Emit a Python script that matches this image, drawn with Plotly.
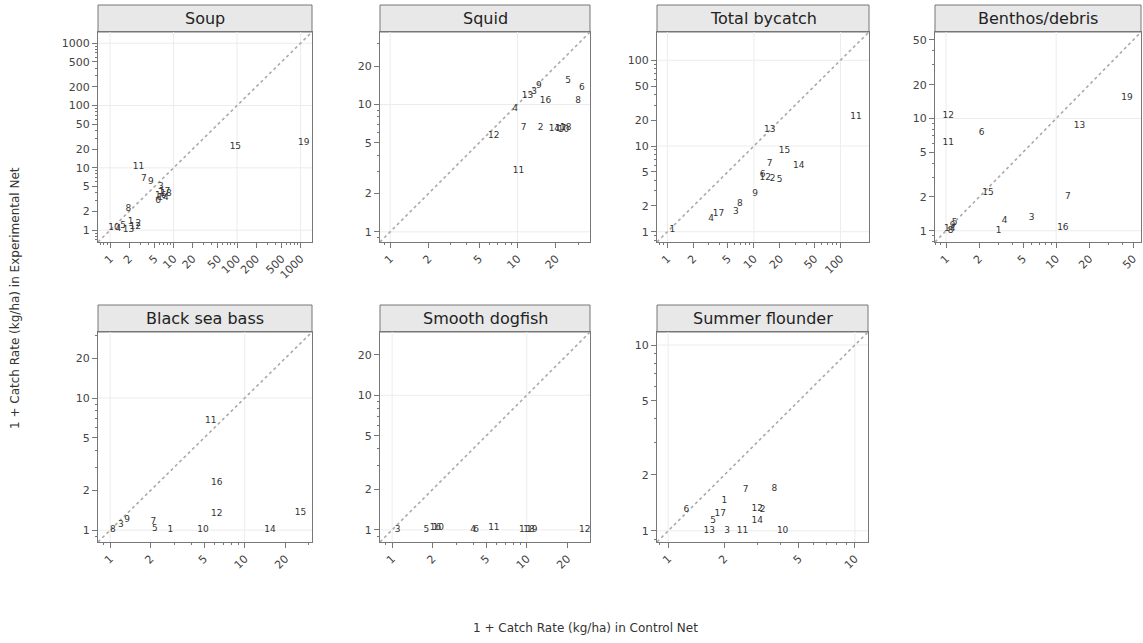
import plotly.graph_objects as go

W, H = 1143, 643

# ---------------- data (1 + catch rate, kg/ha) ----------------
panel_names = ["Soup", "Squid", "Total bycatch", "Benthos/debris",
               "Black sea bass", "Smooth dogfish", "Summer flounder"]

soup_labels = ["1", "2", "3", "4", "5", "6", "7", "8", "9", "10", "11", "12", "13", "14", "15", "16", "17", "18", "19"]
soup_control = [2.1, 2.8, 6.3, 1.35, 1.6, 5.7, 3.4, 1.95, 4.4, 1.15, 2.8, 2.5, 1.95, 6.8, 94, 6.3, 7.2, 7.6, 1120]
soup_exper = [1.34, 1.25, 4.9, 1.04, 1.16, 3.0, 6.8, 2.2, 5.9, 1.08, 10.6, 1.12, 1.03, 3.3, 21.5, 3.6, 4.1, 3.9, 25]

squid_labels = ["2", "3", "4", "5", "6", "7", "8", "9", "10", "11", "12", "13", "14", "16", "17", "18"]
squid_control = [15.2, 13.5, 9.6, 25, 32, 11.2, 30, 14.7, 23, 10.2, 6.5, 12, 19.5, 16.6, 21.8, 24]
squid_exper = [6.6, 12.5, 9.3, 15.5, 13.6, 6.6, 10.7, 14.1, 6.3, 3.0, 5.7, 11.8, 6.4, 10.7, 6.5, 6.6]

total_labels = ["1", "2", "3", "4", "5", "6", "7", "8", "9", "11", "12", "13", "14", "15", "17"]
total_control = [1.14, 16.4, 6.2, 3.2, 19.8, 12.6, 15.2, 6.9, 10.3, 151, 13.5, 15.2, 33, 22.5, 3.9]
total_exper = [1.05, 4.2, 1.7, 1.4, 4.0, 4.6, 6.2, 2.1, 2.8, 22, 4.3, 15.6, 5.9, 8.8, 1.6]

benthos_labels = ["1", "3", "4", "5", "6", "7", "8", "9", "11", "12", "13", "14", "15", "16", "19"]
benthos_control = [3.0, 6.0, 3.4, 1.2, 2.1, 12.8, 1.1, 1.15, 1.05, 1.05, 16.3, 1.08, 2.4, 11.5, 44]
benthos_exper = [1.0, 1.3, 1.23, 1.18, 7.4, 2.0, 1.0, 1.1, 6.1, 10.6, 8.6, 1.05, 2.2, 1.06, 15.4]

bsb_labels = ["1", "3", "5", "7", "8", "9", "10", "11", "12", "14", "15", "16"]
bsb_control = [2.8, 1.2, 2.15, 2.1, 1.05, 1.34, 4.9, 5.6, 6.2, 15.4, 26, 6.2]
bsb_exper = [1.0, 1.1, 1.02, 1.15, 1.0, 1.19, 1.0, 6.7, 1.34, 1.0, 1.36, 2.3]

dog_labels = ["1", "3", "4", "5", "6", "10", "11", "12", "16", "18", "19"]
dog_control = [9.2, 1.1, 4.0, 1.8, 4.2, 2.2, 5.7, 27, 2.1, 10.4, 10.9]
dog_exper = [1.0, 1.0, 1.0, 1.0, 1.0, 1.03, 1.03, 1.0, 1.03, 1.0, 1.0]

fl_labels = ["1", "2", "3", "5", "6", "7", "8", "10", "11", "12", "13", "14", "17"]
fl_control = [2.0, 3.2, 2.07, 1.74, 1.25, 2.6, 3.7, 4.1, 2.5, 3.0, 1.66, 3.0, 1.9]
fl_exper = [1.45, 1.30, 1.0, 1.13, 1.30, 1.66, 1.68, 1.0, 1.0, 1.31, 1.0, 1.13, 1.23]

ticks_soup = [1, 2, 5, 10, 20, 50, 100, 200, 500, 1000]
ticks_squid = [1, 2, 5, 10, 20]
ticks_total = [1, 2, 5, 10, 20, 50, 100]
ticks_benthos = [1, 2, 5, 10, 20, 50]
ticks_bsb = [1, 2, 5, 10, 20]
ticks_dog = [1, 2, 5, 10, 20]
ticks_fl = [1, 2, 5, 10]

series = [
    (soup_labels, soup_control, soup_exper, ticks_soup),
    (squid_labels, squid_control, squid_exper, ticks_squid),
    (total_labels, total_control, total_exper, ticks_total),
    (benthos_labels, benthos_control, benthos_exper, ticks_benthos),
    (bsb_labels, bsb_control, bsb_exper, ticks_bsb),
    (dog_labels, dog_control, dog_exper, ticks_dog),
    (fl_labels, fl_control, fl_exper, ticks_fl),
]

# ---------------- layout geometry (pixels) ----------------
boxes = [  # x0, x1, ytop, ybottom of plotting region
    (98, 312, 32, 242),
    (380, 590, 32, 242),
    (657, 869, 32, 242),
    (935, 1141, 32, 242),
    (98, 312, 332, 542),
    (380, 590, 332, 542),
    (657, 868, 332, 542),
]
log_ranges = [
    (-0.19, 3.18),
    (-0.08, 1.57),
    (-0.12, 2.33),
    (-0.10, 1.77),
    (-0.09, 1.50),
    (-0.09, 1.47),
    (-0.06, 1.07),
]
STRIP_H = 27

FONT = "DejaVu Sans, Verdana, sans-serif"
AX_COL = "#777777"
TXT_COL = "#333333"


def minor_vals(lo, hi):
    out = []
    for d in range(-1, 5):
        for m in (3, 4, 6, 7, 8, 9):
            v = m * 10 ** d
            if 10 ** lo <= v <= 10 ** hi:
                out.append(v)
    return out


fig = go.Figure()
shapes = []
annotations = []
layout = {}

for i, ((labs, xc, ye, tv), (x0, x1, yt, yb), (lo, hi), name) in enumerate(
        zip(series, boxes, log_ranges, panel_names)):
    k = i + 1
    xa = "x" if k == 1 else f"x{k}"
    ya = "y" if k == 1 else f"y{k}"

    # light grid lines at decades
    decades = [10 ** d for d in range(0, 4) if lo <= d <= hi]
    for d in decades:
        fig.add_trace(go.Scatter(x=[d, d], y=[10 ** lo, 10 ** hi], mode="lines",
                                 line=dict(color="#ececec", width=1),
                                 xaxis=xa, yaxis=ya, hoverinfo="skip", showlegend=False))
        fig.add_trace(go.Scatter(x=[10 ** lo, 10 ** hi], y=[d, d], mode="lines",
                                 line=dict(color="#ececec", width=1),
                                 xaxis=xa, yaxis=ya, hoverinfo="skip", showlegend=False))

    # 1:1 reference line
    fig.add_trace(go.Scatter(x=[10 ** lo, 10 ** hi], y=[10 ** lo, 10 ** hi], mode="lines",
                             line=dict(color="#aaaaaa", width=1.6, dash="dot"),
                             xaxis=xa, yaxis=ya, hoverinfo="skip", showlegend=False))

    # haul-number labels
    fig.add_trace(go.Scatter(x=xc, y=ye, mode="text", text=labs,
                             textfont=dict(family=FONT, size=9, color=TXT_COL),
                             xaxis=xa, yaxis=ya, showlegend=False))

    common = dict(type="log", range=[lo, hi], showline=True, mirror=True,
                  linecolor=AX_COL, linewidth=1, showgrid=False, zeroline=False,
                  tickvals=tv, ticktext=[str(v) for v in tv],
                  ticks="outside", ticklen=5, tickcolor=AX_COL,
                  tickfont=dict(family=FONT, size=11, color="#444444"),
                  minor=dict(tickvals=minor_vals(lo, hi), ticks="outside", ticklen=2,
                             tickcolor=AX_COL, showgrid=False))
    layout["xaxis" if k == 1 else f"xaxis{k}"] = dict(
        common, domain=[x0 / W, x1 / W], anchor=ya, tickangle=-45)
    layout["yaxis" if k == 1 else f"yaxis{k}"] = dict(
        common, domain=[1 - yb / H, 1 - yt / H], anchor=xa)

    # strip
    shapes.append(dict(type="rect", xref="paper", yref="paper",
                       x0=x0 / W, x1=x1 / W, y0=1 - yt / H, y1=1 - (yt - STRIP_H) / H,
                       fillcolor="#e8e8e8", line=dict(color=AX_COL, width=1), layer="below"))
    annotations.append(dict(x=(x0 + x1) / 2 / W, y=1 - (yt - STRIP_H / 2) / H,
                            xref="paper", yref="paper", text=name, showarrow=False,
                            font=dict(family=FONT, size=16, color="#222222"),
                            xanchor="center", yanchor="middle"))

annotations.append(dict(x=585 / W, y=1 - 628 / H, xref="paper", yref="paper",
                        text="1 + Catch Rate (kg/ha) in Control Net", showarrow=False,
                        font=dict(family=FONT, size=12, color=TXT_COL),
                        xanchor="center", yanchor="middle"))
annotations.append(dict(x=15 / W, y=1 - 298 / H, xref="paper", yref="paper",
                        text="1 + Catch Rate (kg/ha) in Experimental Net", showarrow=False,
                        textangle=-90,
                        font=dict(family=FONT, size=12, color=TXT_COL),
                        xanchor="center", yanchor="middle"))

fig.update_layout(width=W, height=H, margin=dict(l=0, r=0, t=0, b=0),
                  paper_bgcolor="white", plot_bgcolor="white",
                  shapes=shapes, annotations=annotations, showlegend=False, **layout)

fig.write_html("out.html")
